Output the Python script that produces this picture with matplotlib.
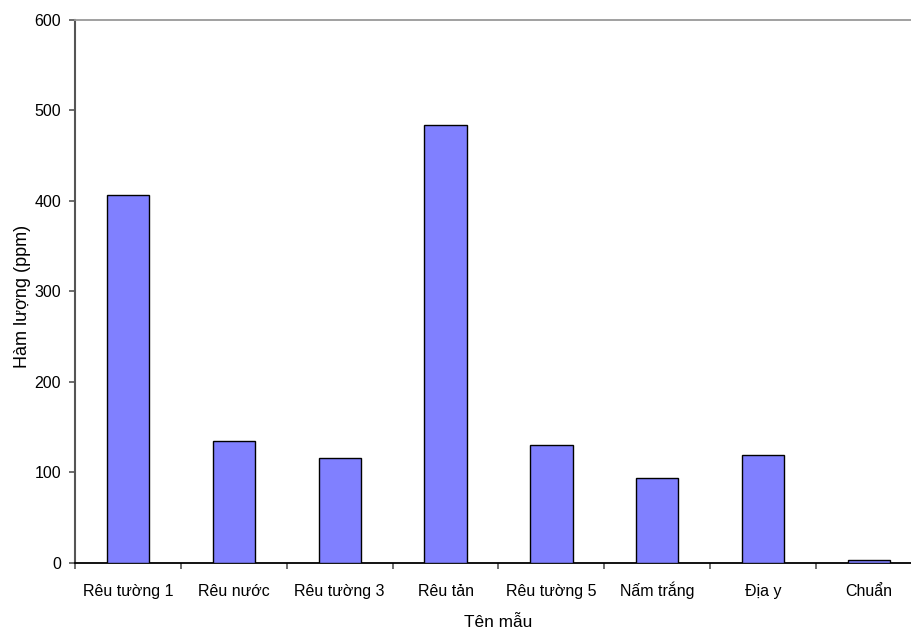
import matplotlib
matplotlib.use("Agg")
import matplotlib.pyplot as plt

categories = ["Rêu tường 1", "Rêu nước", "Rêu tường 3", "Rêu tản",
              "Rêu tường 5", "Nấm trắng", "Địa y", "Chuẩn"]
values = [406, 134, 116, 483, 130, 94, 119, 3]
yticks = [0, 100, 200, 300, 400, 500, 600]

plt.rcParams['font.family'] = ['Liberation Sans', 'DejaVu Sans']

W, H = 912, 632
fig = plt.figure(figsize=(W / 100, H / 100), dpi=100)
left, right, top, bottom = 75, 922, 19.5, 562.7
ax = fig.add_axes([left / W, 1 - bottom / H, (right - left) / W, (bottom - top) / H])

x = list(range(len(categories)))
ax.bar(x, values, width=0.4, color="#8080FF", edgecolor="black", linewidth=1.0, zorder=3)

ax.set_xlim(-0.5, len(categories) - 0.5)
ax.set_ylim(0, 600)
ax.set_yticks(yticks)
ax.set_xticks([i - 0.5 for i in range(len(categories))], minor=False)
ax.set_xticklabels([])
ax.set_xticks(x, minor=True)
ax.set_xticklabels(categories, minor=True, fontsize=11.5)
for lbl in ax.get_xticklabels(minor=True):
    lbl.set_va('baseline')
ax.tick_params(axis='x', which='minor', length=0, pad=(595.7 - bottom) * 0.72)
ax.tick_params(axis='x', which='major', length=4, width=1.2, color="#555555", direction='out')
ax.tick_params(axis='y', length=4, width=1.2, color="#555555", direction='out', pad=6, labelsize=11.5)

ax.spines['right'].set_visible(False)
ax.spines['top'].set_color("#999999")
ax.spines['top'].set_linewidth(1.3)
ax.spines['left'].set_color("#555555")
ax.spines['left'].set_linewidth(1.5)
ax.spines['bottom'].set_color("black")
ax.spines['bottom'].set_linewidth(1.3)

ax.set_ylabel("Hàm lượng (ppm)", fontsize=13, rotation_mode='anchor', ha='center', va='baseline')
ax.set_xlabel("Tên mẫu", fontsize=12.4, va='baseline', ha='center')
ax.yaxis.set_label_coords((26.7 - left) / (right - left), (bottom - 296.5) / (bottom - top))
ax.xaxis.set_label_coords((498 - left) / (right - left), (bottom - 627.3) / (bottom - top))

fig.savefig("out.png", dpi=100)
